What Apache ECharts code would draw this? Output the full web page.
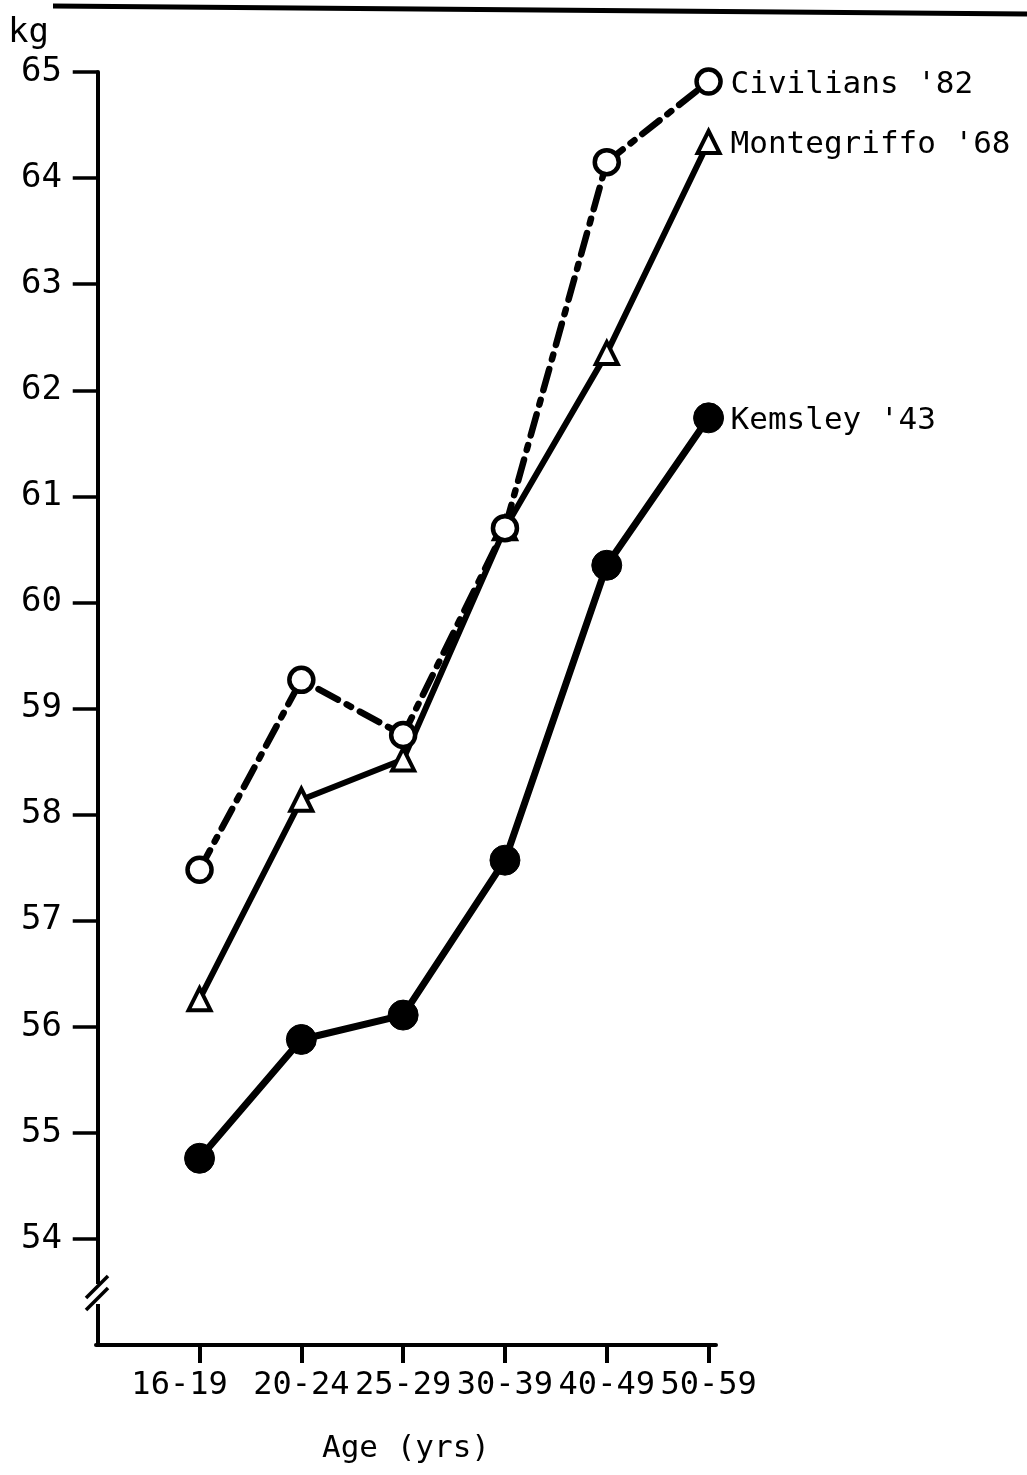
<!DOCTYPE html>
<html>
<head>
<meta charset="utf-8">
<script src="https://cdn.jsdelivr.net/npm/echarts@6/dist/echarts.min.js"></script>
<style>html,body{margin:0;padding:0;background:#fff;}#c{width:1027px;height:1475px;}</style>
</head>
<body>
<div id="c"></div>
<script>
var categories = ['16-19', '20-24', '25-29', '30-39', '40-49', '50-59'];
var civilians82 = [57.48, 59.27, 58.75, 60.70, 64.15, 64.91];
var montegriffo68 = [56.26, 58.14, 58.52, 60.70, 62.35, 64.34];
var kemsley43 = [54.76, 55.88, 56.11, 57.57, 60.35, 61.74];
var seriesNames = ["Civilians '82", "Montegriffo '68", "Kemsley '43"];
var yTicks = [54, 55, 56, 57, 58, 59, 60, 61, 62, 63, 64, 65];

var FONT = '"DejaVu Sans Mono", "Liberation Mono", monospace';

function pairs(vals) {
  return vals.map(function (v, i) { return [i + 1, v]; });
}

var chart = echarts.init(document.getElementById('c'));
var endLabel = {
  show: true,
  formatter: '{a}',
  distance: 22,
  offset: [0, 3],
  fontFamily: FONT,
  fontSize: 31,
  color: '#000'
};

chart.setOption({
  animation: false,
  backgroundColor: '#fff',
  grid: { left: 96, top: 72, width: 620, height: 1273, containLabel: false },
  xAxis: {
    type: 'value',
    min: -0.017,
    max: 6.073,
    name: 'Age (yrs)',
    nameLocation: 'middle',
    nameGap: 88,
    nameTextStyle: { fontFamily: FONT, fontSize: 31, color: '#000' },
    splitLine: { show: false },
    axisLine: { show: true, lineStyle: { color: '#000', width: 4 } },
    axisTick: { show: true, customValues: [1, 2, 3, 4, 5, 6], length: 18, lineStyle: { color: '#000', width: 4 } },
    axisLabel: {
      customValues: [1, 2, 3, 4, 5, 6],
      margin: 25,
      fontFamily: FONT,
      fontSize: 32,
      color: '#000',
      formatter: function (v) {
        var i = Math.round(v) - 1;
        if (i === 0) return '{f|' + categories[i] + '}';
        return categories[i] || '';
      },
      rich: { f: { fontFamily: FONT, fontSize: 32, color: '#000', padding: [0, 40, 0, 0] } }
    }
  },
  yAxis: {
    type: 'value',
    min: 53,
    max: 65,
    interval: 1,
    splitLine: { show: false },
    axisLine: { show: true, lineStyle: { color: '#000', width: 4 } },
    axisTick: { show: true, customValues: yTicks, length: 25, lineStyle: { color: '#000', width: 3.5 } },
    axisLabel: {
      customValues: yTicks,
      margin: 34,
      fontFamily: FONT,
      fontSize: 34,
      color: '#000'
    }
  },
  series: [
    {
      name: seriesNames[0],
      type: 'line',
      data: pairs(civilians82),
      symbol: 'circle',
      symbolSize: 24,
      itemStyle: { color: '#fff', borderColor: '#000', borderWidth: 4.5 },
      lineStyle: { color: '#000', width: 6.5, type: [22, 10, 5, 10], cap: 'round' },
      endLabel: endLabel,
      z: 3
    },
    {
      name: seriesNames[1],
      type: 'line',
      data: pairs(montegriffo68),
      symbol: 'triangle',
      symbolSize: 22,
      itemStyle: { color: '#fff', borderColor: '#000', borderWidth: 4 },
      lineStyle: { color: '#000', width: 6 },
      endLabel: endLabel,
      z: 2
    },
    {
      name: seriesNames[2],
      type: 'line',
      data: pairs(kemsley43),
      symbol: 'circle',
      symbolSize: 30,
      itemStyle: { color: '#000', borderColor: '#000', borderWidth: 1 },
      lineStyle: { color: '#000', width: 7 },
      endLabel: endLabel,
      z: 2
    }
  ],
  graphic: [
    { type: 'text', left: 8, top: 16, style: { text: 'kg', font: '34px ' + FONT, fill: '#000' } },
    { type: 'line', shape: { x1: 53, y1: 6, x2: 1027, y2: 14 }, style: { stroke: '#000', lineWidth: 5 } },
    { type: 'rect', shape: { x: 88, y: 1284, width: 16, height: 20 }, style: { fill: '#fff' }, z: 100 },
    { type: 'line', shape: { x1: 86, y1: 1298, x2: 108, y2: 1276 }, style: { stroke: '#000', lineWidth: 3.5 }, z: 101 },
    { type: 'line', shape: { x1: 86, y1: 1310, x2: 108, y2: 1288 }, style: { stroke: '#000', lineWidth: 3.5 }, z: 101 }
  ]
});
</script>
</body>
</html>
